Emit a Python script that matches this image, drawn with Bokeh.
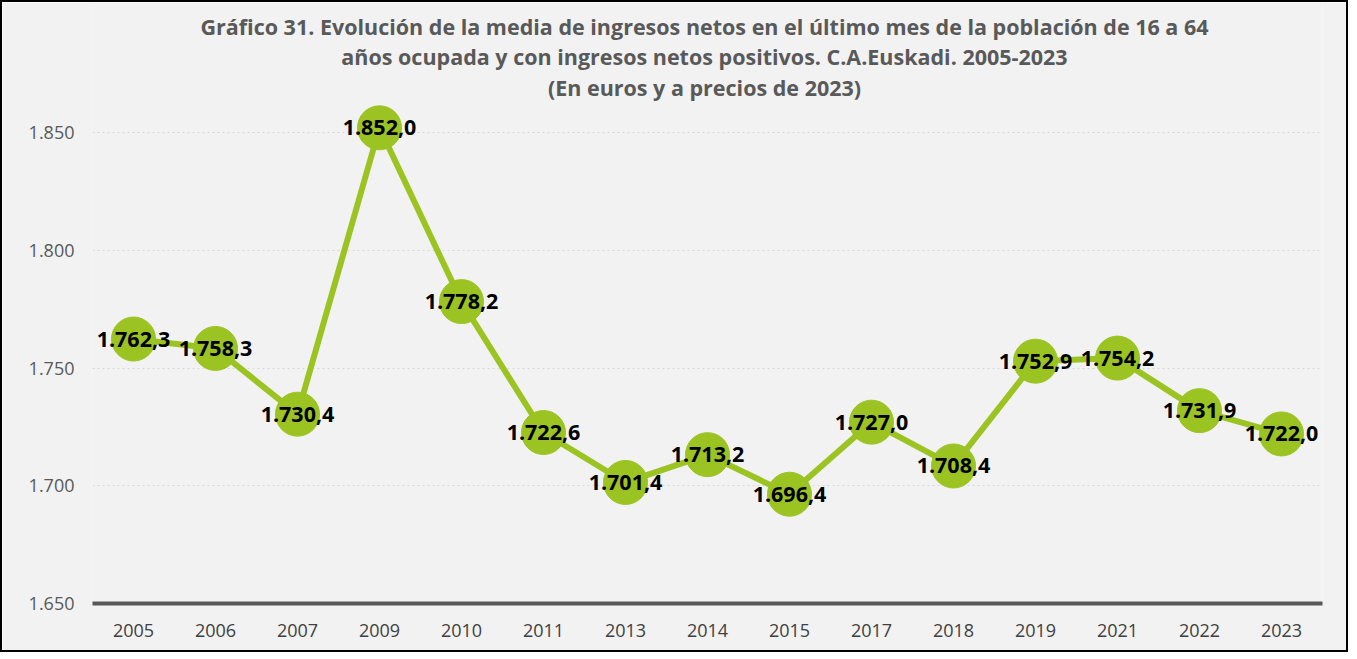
from bokeh.plotting import figure
from bokeh.models import ColumnDataSource, FactorRange, Range1d, FixedTicker, CustomJSTickFormatter, Label
from bokeh.core.properties import value
from bokeh.embed import file_html
from bokeh.resources import INLINE

years = ["2005", "2006", "2007", "2009", "2010", "2011", "2013", "2014", "2015",
         "2017", "2018", "2019", "2021", "2022", "2023"]
ingresos = [1762.3, 1758.3, 1730.4, 1852.0, 1778.2, 1722.6, 1701.4, 1713.2, 1696.4,
            1727.0, 1708.4, 1752.9, 1754.2, 1731.9, 1722.0]
y_ticks = [1650, 1700, 1750, 1800, 1850]
title_lines = [
    "Gráfico 31. Evolución de la media de ingresos netos en el último mes de la población de 16 a 64",
    "años ocupada y con ingresos netos positivos. C.A.Euskadi. 2005-2023",
    "(En euros y a precios de 2023)",
]

def fmt_es(v):
    s = f"{v:,.1f}"
    return s.replace(",", "#").replace(".", ",").replace("#", ".")

labels = [fmt_es(v) for v in ingresos]
src = ColumnDataSource(data=dict(x=years, y=ingresos, lab=labels))

W, H = 1348, 652
LEFT, RIGHT, TOP, BOTTOM = 90, 28, 0, 51
frame_h = H - TOP - BOTTOM
px_per_unit = 471 / 200.0
y_top = 1650 + frame_h / px_per_unit

p = figure(width=W, height=H, x_range=FactorRange(*years, range_padding=0),
           y_range=Range1d(1650, y_top), output_backend="svg", toolbar_location=None,
           min_border_left=LEFT, min_border_right=RIGHT, min_border_top=TOP,
           min_border_bottom=BOTTOM)
p.background_fill_color = "#f2f2f2"
p.border_fill_color = "#f2f2f2"
p.outline_line_color = None
p.styles = {"border": "2px solid #000000"}

FONT = "Open Sans"
GREEN = "#9bc423"

p.line("x", "y", source=src, line_color=GREEN, line_width=6)
p.scatter("x", "y", source=src, size=44, fill_color=GREEN, line_color=GREEN)
p.text("x", "y", text="lab", source=src, text_align="center", text_baseline="middle",
       text_font=value(FONT), text_font_style="bold", text_font_size="21.5px", text_color="#000000")

# axes
p.yaxis.ticker = FixedTicker(ticks=y_ticks)
p.yaxis.formatter = CustomJSTickFormatter(code="""
const t = Math.round(tick);
const th = Math.floor(t / 1000);
const r = String(t % 1000).padStart(3, '0');
return th + '.' + r;
""")
p.yaxis.axis_line_color = None
p.yaxis.major_tick_line_color = None
p.yaxis.minor_tick_line_color = None
p.yaxis.major_label_standoff = 12
p.yaxis.major_label_text_font = FONT
p.yaxis.major_label_text_font_size = "18px"
p.yaxis.major_label_text_color = "#595959"

p.xaxis.axis_line_color = "#595959"
p.xaxis.axis_line_width = 4
p.xaxis.major_tick_line_color = None
p.xaxis.minor_tick_line_color = None
p.xaxis.major_label_standoff = 14
p.xaxis.major_label_text_font = FONT
p.xaxis.major_label_text_font_size = "18px"
p.xaxis.major_label_text_color = "#404040"

p.xgrid.grid_line_color = None
p.ygrid.grid_line_color = "#d9d9d9"
p.ygrid.grid_line_dash = "2 3"
p.ygrid.grid_line_width = 1

# title lines, positioned in screen units relative to the plot frame
cx = 705 - 3 - LEFT
for line, ycen in zip(title_lines, [27, 57, 88]):
    p.add_layout(Label(x=cx, y=frame_h - (ycen - 3 - TOP), x_units="screen", y_units="screen",
                       text=line, text_align="center", text_baseline="middle", text_font=FONT,
                       text_font_style="bold", text_font_size="21.5px", text_color="#595959"))

open("out.html", "w").write(file_html(p, INLINE))
